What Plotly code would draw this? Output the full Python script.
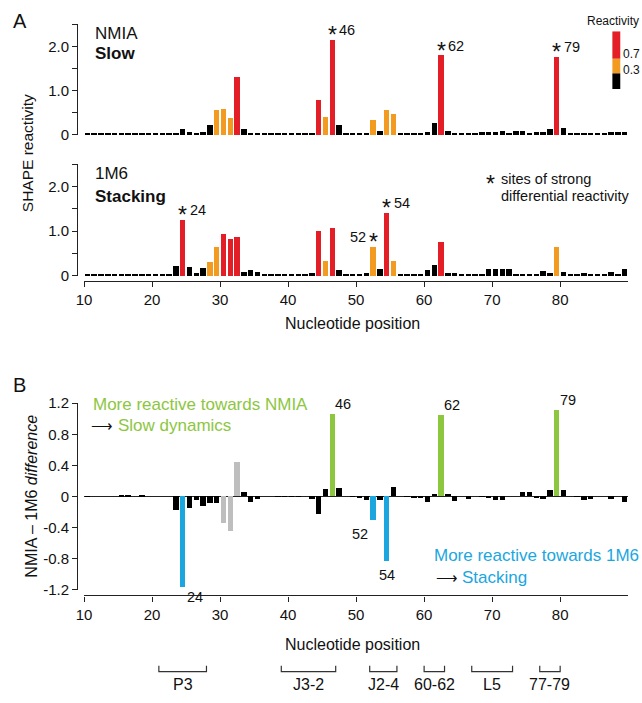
import plotly.graph_objects as go

# ---------------- data ----------------
positions = list(range(10, 90))

nmia = [0.03, 0.02, 0.02, 0.02, 0.02, 0.03, 0.03, 0.02, 0.02, 0.02,
        0.02, 0.02, 0.02, 0.05, 0.14, 0.06, 0.04, 0.06, 0.23, 0.56,
        0.58, 0.38, 1.30, 0.13, 0.05, 0.05, 0.02, 0.02, 0.02, 0.02,
        0.02, 0.02, 0.02, 0.03, 0.79, 0.40, 2.15, 0.21, 0.02, 0.02,
        0.03, 0.03, 0.34, 0.09, 0.56, 0.46, 0.03, 0.02, 0.02, 0.02,
        0.06, 0.26, 1.79, 0.08, 0.02, 0.02, 0.02, 0.03, 0.07, 0.06,
        0.06, 0.09, 0.03, 0.08, 0.08, 0.04, 0.07, 0.06, 0.14, 1.76,
        0.16, 0.04, 0.04, 0.02, 0.04, 0.04, 0.04, 0.06, 0.06, 0.06]

m1m6 = [0.04, 0.02, 0.02, 0.02, 0.02, 0.02, 0.02, 0.02, 0.02, 0.02,
        0.02, 0.02, 0.02, 0.22, 1.25, 0.20, 0.07, 0.18, 0.31, 0.64,
        0.93, 0.83, 0.86, 0.09, 0.12, 0.09, 0.02, 0.02, 0.02, 0.02,
        0.02, 0.02, 0.02, 0.06, 1.01, 0.32, 1.07, 0.12, 0.02, 0.02,
        0.04, 0.06, 0.65, 0.15, 1.40, 0.34, 0.05, 0.03, 0.04, 0.05,
        0.13, 0.23, 0.75, 0.07, 0.07, 0.02, 0.04, 0.04, 0.04, 0.14,
        0.14, 0.14, 0.14, 0.04, 0.04, 0.04, 0.05, 0.11, 0.06, 0.65,
        0.09, 0.05, 0.05, 0.06, 0.05, 0.05, 0.04, 0.09, 0.03, 0.14]

diff = [-0.01, 0.00, 0.00, 0.00, 0.00, 0.01, 0.02, 0.00, 0.01, 0.00,
        0.00, 0.00, 0.00, -0.18, -1.17, -0.15, -0.05, -0.13, -0.09, -0.09,
        -0.35, -0.45, 0.44, 0.05, -0.08, -0.04, 0.00, 0.00, -0.01, -0.01,
        -0.01, -0.01, 0.00, -0.03, -0.23, 0.09, 1.06, 0.11, 0.00, -0.01,
        -0.02, -0.05, -0.31, -0.05, -0.83, 0.12, 0.00, -0.01, -0.02, -0.02,
        -0.07, 0.03, 1.05, 0.03, -0.06, 0.00, -0.03, 0.00, -0.01, -0.02,
        -0.05, -0.05, 0.00, 0.00, 0.06, 0.06, -0.02, -0.04, 0.08, 1.11,
        0.08, 0.00, -0.01, -0.05, -0.03, 0.00, 0.00, -0.04, 0.00, -0.08]

green_pos = [46, 62, 79]   # more reactive towards NMIA
blue_pos = [24, 52, 54]    # more reactive towards 1M6
gray_pos = [30, 31, 32]

nmia_starred = [46, 62, 79]
m1m6_starred_right = [24, 54]
m1m6_starred_left = [52]

xticks = [10, 20, 30, 40, 50, 60, 70, 80]
a_ytickvals = [0, 0.5, 1.0, 1.5, 2.0, 2.5]
a_yticktext = ["0", "", "1.0", "", "2.0", ""]
b_ytickvals = [-1.2, -0.8, -0.4, 0, 0.4, 0.8, 1.2]
b_yticktext = ["-1.2", "-0.8", "-0.4", "0", "0.4", "0.8", "1.2"]

regions = ["P3", "J3-2", "J2-4", "60-62", "L5", "77-79"]
region_start = [21, 39, 52, 60, 67, 77]
region_end = [28, 47, 56, 63, 73, 80]

thresholds = [0.3, 0.7]

# ---------------- style ----------------
W, H = 642, 703
def px(x): return x / W
def py(y): return 1 - y / H

FONT = "Liberation Sans, Arial, sans-serif"
RED = "#E31E26"; ORANGE = "#F39A21"; BLACK = "#000000"
GREEN = "#8DC63F"; BLUE = "#1BA6DF"; GRAY = "#BEBEBE"
AX = "#222222"

def react_color(v):
    return RED if v >= thresholds[1] else (ORANGE if v >= thresholds[0] else BLACK)

def diff_color(p):
    if p in green_pos: return GREEN
    if p in blue_pos: return BLUE
    if p in gray_pos: return GRAY
    return BLACK

fig = go.Figure()
common = dict(width=0.8, offset=0.1, marker_line_width=0, hoverinfo="x+y", showlegend=False)
fig.add_bar(x=positions, y=nmia, marker_color=[react_color(v) for v in nmia],
            xaxis="x", yaxis="y", **common)
fig.add_bar(x=positions, y=m1m6, marker_color=[react_color(v) for v in m1m6],
            xaxis="x2", yaxis="y2", **common)
fig.add_bar(x=positions, y=diff, marker_color=[diff_color(p) for p in positions],
            xaxis="x3", yaxis="y3", **common)

xdom = [px(77), px(628)]
xcommon = dict(domain=xdom, range=[10, 90], showgrid=False, zeroline=False,
               showline=True, linecolor=AX, linewidth=1.2, ticks="outside",
               ticklen=5, tickcolor=AX, tickwidth=1.2, tickvals=xticks,
               tickfont=dict(size=15, family=FONT, color="#111"), anchor="free")
ycommon = dict(showgrid=False, showline=True, linecolor=AX, linewidth=1.2,
               ticks="outside", ticklen=5, tickcolor=AX, tickwidth=1.2,
               tickfont=dict(size=15, family=FONT, color="#111"),
               anchor="free", position=px(70))

fig.update_layout(
    width=W, height=H, margin=dict(l=0, r=0, t=0, b=0),
    paper_bgcolor="white", plot_bgcolor="white", bargap=0,
    font=dict(family=FONT, color="#111"),
    xaxis=dict(domain=xdom, range=[10, 90], visible=False, anchor="y"),
    xaxis2=dict(**xcommon, position=py(279)),
    xaxis3=dict(**xcommon, position=py(601)),
    yaxis=dict(**ycommon, domain=[py(129), py(15.5)], range=[0, 2.5],
               tickvals=a_ytickvals, ticktext=a_yticktext, zeroline=False),
    yaxis2=dict(**ycommon, domain=[py(273.5), py(159)], range=[0, 2.5],
                tickvals=a_ytickvals, ticktext=a_yticktext, zeroline=False),
    yaxis3=dict(**ycommon, domain=[py(595), py(404)], range=[-1.2, 1.2],
                tickvals=b_ytickvals, ticktext=b_yticktext,
                zeroline=True, zerolinecolor=AX, zerolinewidth=1),
)

ann = []
def txt(x, y, s, size, color="#111", xanchor="left", yanchor="middle", **kw):
    ann.append(dict(x=px(x), y=py(y), xref="paper", yref="paper", text=s,
                    showarrow=False, xanchor=xanchor, yanchor=yanchor,
                    font=dict(size=size, family=FONT, color=color), **kw))

# panel letters and labels
txt(12, 12, "A", 20, xanchor="center")
txt(12, 385, "B", 20, xanchor="center")
txt(86, 25, "NMIA", 17)
txt(86, 46, "<b>Slow</b>", 17)
txt(86, 169, "1M6", 17)
txt(86, 192, "<b>Stacking</b>", 17)
txt(20, 148, "SHAPE reactivity", 15.5, xanchor="center", textangle=-90)
txt(24, 499, "NMIA – 1M6 <i>difference</i>", 16, xanchor="center", textangle=-90)
txt(349, 322, "Nucleotide position", 16, xanchor="center")
txt(349, 651, "Nucleotide position", 16, xanchor="center")

# asterisk note
txt(489, 179, "*", 23, xanchor="center")
txt(497, 174, "sites of strong", 14.5)
txt(497, 192, "differential reactivity", 14.5)

# reactivity colour key
txt(584, 12, "Reactivity", 12)
txt(621, 46, "0.7", 12)
txt(621, 62, "0.3", 12)
shapes = []
for (c, y0, y1) in [(RED, 23, 51), (ORANGE, 51, 66), (BLACK, 66, 82)]:
    shapes.append(dict(type="rect", xref="paper", yref="paper", x0=px(612), x1=px(620),
                       y0=py(y1), y1=py(y0), fillcolor=c, line_width=0))

# panel B texts
txt(84, 405, "More reactive towards NMIA", 17, color=GREEN)
txt(82, 427, "⟶", 15)
txt(109, 427, "Slow dynamics", 17, color=GREEN)
txt(429, 560, "More reactive towards 1M6", 17, color=BLUE)
txt(431, 583, "⟶", 15)
txt(458, 583, "Stacking", 17, color=BLUE)

# starred labels panel A
def star_label(n, val, yax, side):
    ann.append(dict(x=n + 0.5, y=val, xref=yax.replace("y", "x"), yref=yax, text="*",
                    showarrow=False, xanchor="center", yanchor="middle", yshift=5,
                    font=dict(size=23, family=FONT, color="#111")))
    ann.append(dict(x=n + 0.5, y=val, xref=yax.replace("y", "x"), yref=yax, text=str(n),
                    showarrow=False, xanchor="left" if side == "right" else "right",
                    xshift=5 if side == "right" else -5, yanchor="middle", yshift=10,
                    font=dict(size=14.5, family=FONT, color="#111")))

for n in nmia_starred:
    star_label(n, nmia[positions.index(n)], "y", "right")
for n in m1m6_starred_right:
    star_label(n, m1m6[positions.index(n)], "y2", "right")
for n in m1m6_starred_left:
    star_label(n, m1m6[positions.index(n)], "y2", "left")

# panel B bar labels
def blabel(n, xoff, xanchor, yanchor, yshift):
    ann.append(dict(x=n + xoff, y=diff[positions.index(n)], xref="x3", yref="y3",
                    text=str(n), showarrow=False, xanchor=xanchor, yanchor=yanchor,
                    yshift=yshift, font=dict(size=14.5, family=FONT, color="#111")))
for n in green_pos:
    blabel(n, 0.65, "left", "bottom", 0)
blabel(52, 0.1, "right", "top", -4)
blabel(54, 0.5, "center", "top", -4)
blabel(24, 0.9, "left", "middle", -10)

# region brackets
for name, s, e in zip(regions, region_start, region_end):
    shapes.append(dict(type="path", xref="x3", yref="paper",
                       path=f"M {s},{py(673)} L {s},{py(679)} L {e},{py(679)} L {e},{py(673)}",
                       line=dict(color="#333", width=1.2)))
    ann.append(dict(x=(s + e) / 2, y=py(692), xref="x3", yref="paper", text=name,
                    showarrow=False, xanchor="center", yanchor="middle",
                    font=dict(size=16, family=FONT, color="#111")))

fig.update_layout(annotations=ann, shapes=shapes)
fig.write_html("out.html")
